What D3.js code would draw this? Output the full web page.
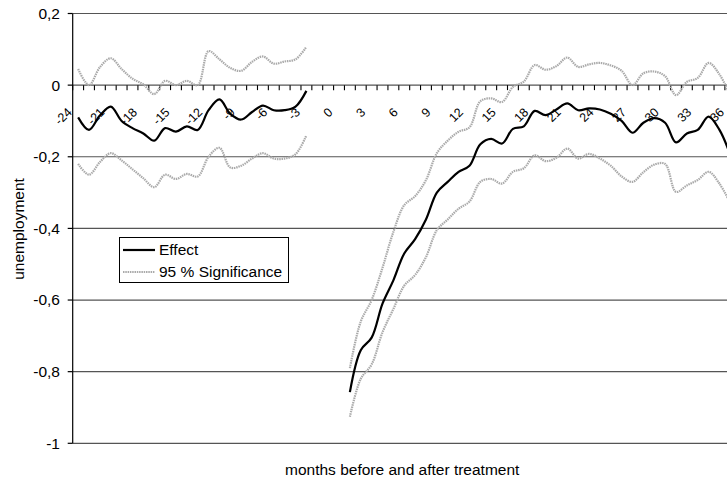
<!DOCTYPE html>
<html>
<head>
<meta charset="utf-8">
<script src="https://cdn.jsdelivr.net/npm/d3@7"></script>
<style>
  html, body { margin: 0; padding: 0; background: #fff; }
  svg { display: block; font-family: "Liberation Sans", Arial, sans-serif; }
</style>
</head>
<body>
<svg id="chart" width="727" height="485"></svg>
<script>
// ---- data ----
const months = d3.range(-24, 37);
const effectPre = [-0.09,-0.125,-0.085,-0.06,-0.10,-0.12,-0.135,-0.155,-0.12,-0.13,-0.115,-0.125,-0.07,-0.04,-0.08,-0.096,-0.075,-0.057,-0.07,-0.07,-0.06,-0.016];
const upperPre  = [0.045,0.0,0.05,0.075,0.045,0.018,0.002,-0.025,0.012,0.0,0.012,0.0,0.095,0.072,0.048,0.04,0.065,0.08,0.06,0.066,0.072,0.107];
const lowerPre  = [-0.22,-0.25,-0.215,-0.19,-0.21,-0.235,-0.26,-0.285,-0.25,-0.262,-0.248,-0.255,-0.2,-0.175,-0.23,-0.225,-0.205,-0.19,-0.205,-0.205,-0.193,-0.14];
const gap = [null, null, null];
const effectPost = [-0.857,-0.74,-0.705,-0.61,-0.545,-0.47,-0.43,-0.375,-0.30,-0.27,-0.242,-0.225,-0.165,-0.15,-0.163,-0.122,-0.115,-0.072,-0.084,-0.068,-0.051,-0.07,-0.065,-0.068,-0.08,-0.1,-0.133,-0.105,-0.092,-0.105,-0.16,-0.135,-0.125,-0.088,-0.125,-0.195];
const upperPost  = [-0.79,-0.66,-0.60,-0.51,-0.41,-0.335,-0.31,-0.265,-0.19,-0.155,-0.13,-0.118,-0.045,-0.037,-0.047,-0.005,0.01,0.056,0.043,0.053,0.077,0.051,0.058,0.062,0.055,0.04,0.0,0.033,0.038,0.025,-0.028,0.009,0.02,0.062,0.03,-0.03];
const lowerPost  = [-0.926,-0.82,-0.78,-0.69,-0.625,-0.56,-0.53,-0.48,-0.405,-0.375,-0.345,-0.325,-0.27,-0.262,-0.275,-0.242,-0.232,-0.196,-0.212,-0.203,-0.177,-0.205,-0.192,-0.205,-0.225,-0.255,-0.27,-0.243,-0.222,-0.22,-0.298,-0.28,-0.265,-0.242,-0.275,-0.33];
const effect = effectPre.concat(gap, effectPost);
const upper = upperPre.concat(gap, upperPost);
const lower = lowerPre.concat(gap, lowerPost);
const xTickLabels = d3.range(-24, 37, 3);
const yTicks = [0.2, 0, -0.2, -0.4, -0.6, -0.8, -1];
const yTickLabels = ["0,2", "0", "-0,2", "-0,4", "-0,6", "-0,8", "-1"];
const seriesNames = ["Effect", "95 % Significance"];

// ---- layout ----
const svg = d3.select("#chart");
const plotLeft = 72.7, plotTop = 13.5, plotBottom = 443.3, step = 10.87;
const x = d3.scaleBand().domain(months).range([plotLeft, plotLeft + months.length * step]).padding(0);
const y = d3.scaleLinear().domain([-1, 0.2]).range([plotBottom, plotTop]);
const cx = m => x(m) + x.bandwidth() / 2;
const plotRight = 727;
const font = 15.5;

// gridlines
svg.append("g").selectAll("line").data(yTicks).join("line")
  .attr("x1", plotLeft).attr("x2", plotRight)
  .attr("y1", d => y(d)).attr("y2", d => y(d))
  .attr("stroke", "#555").attr("stroke-width", 1.2);

// y axis line + ticks
svg.append("line").attr("x1", plotLeft).attr("x2", plotLeft).attr("y1", y(0.2)).attr("y2", y(-1))
  .attr("stroke", "#000").attr("stroke-width", 1.2);
svg.append("g").selectAll("line").data(yTicks).join("line")
  .attr("x1", plotLeft - 5).attr("x2", plotLeft).attr("y1", d => y(d)).attr("y2", d => y(d))
  .attr("stroke", "#000").attr("stroke-width", 1.2);
svg.append("g").selectAll("text").data(yTicks).join("text")
  .attr("x", 60).attr("y", d => y(d)).attr("dy", "0.35em")
  .attr("text-anchor", "end").attr("font-size", font).attr("fill", "#000")
  .text((d, i) => yTickLabels[i]);

// x axis at y=0 with ticks between categories
const xTickPos = months.map(m => x(m)).concat([x(36) + x.bandwidth()]);
svg.append("g").selectAll("line").data(xTickPos).join("line")
  .attr("x1", d => d).attr("x2", d => d).attr("y1", y(0)).attr("y2", y(0) + 5)
  .attr("stroke", "#000").attr("stroke-width", 1.1);

// x labels rotated
svg.append("g").selectAll("text").data(xTickLabels).join("text")
  .attr("transform", d => `translate(${cx(d) - 5.5},${113}) rotate(-45)`)
  .attr("text-anchor", "end").attr("font-size", 12.5).attr("fill", "#000")
  .text(d => d);

// lines
const line = d3.line()
  .defined(d => d[1] !== null)
  .x(d => cx(d[0])).y(d => y(d[1]))
  .curve(d3.curveCatmullRom.alpha(0.5));
const plot = svg.append("g");
function series(vals) { return months.map((m, i) => [m, vals[i]]); }
const bandStyle = p => p.attr("fill", "none").attr("stroke", "#aaa").attr("stroke-width", 2.2).attr("stroke-dasharray", "1.5,0.8");
plot.append("path").datum(series(upper)).attr("d", line).call(bandStyle);
plot.append("path").datum(series(lower)).attr("d", line).call(bandStyle);
plot.append("path").datum(series(effect)).attr("d", line)
  .attr("fill", "none").attr("stroke", "#000").attr("stroke-width", 2.2);

// axis titles
svg.append("text").attr("transform", `translate(24,229) rotate(-90)`)
  .attr("text-anchor", "middle").attr("font-size", font).attr("fill", "#000").text("unemployment");
svg.append("text").attr("x", 285).attr("y", 475)
  .attr("text-anchor", "start").attr("font-size", font).attr("fill", "#000").text("months before and after treatment");

// legend
const lg = svg.append("g");
lg.append("rect").attr("x", 119.5).attr("y", 237.5).attr("width", 169).attr("height", 45)
  .attr("fill", "#fff").attr("stroke", "#000").attr("stroke-width", 1);
const ly = [250, 272];
lg.append("line").attr("x1", 123).attr("x2", 155).attr("y1", ly[0]).attr("y2", ly[0])
  .attr("stroke", "#000").attr("stroke-width", 2.2);
lg.append("line").attr("x1", 123).attr("x2", 155).attr("y1", ly[1]).attr("y2", ly[1]).call(bandStyle);
lg.selectAll("text").data(seriesNames).join("text")
  .attr("x", 159).attr("y", (d, i) => ly[i]).attr("dy", "0.35em")
  .attr("font-size", font).attr("fill", "#000").text(d => d);
</script>
</body>
</html>
